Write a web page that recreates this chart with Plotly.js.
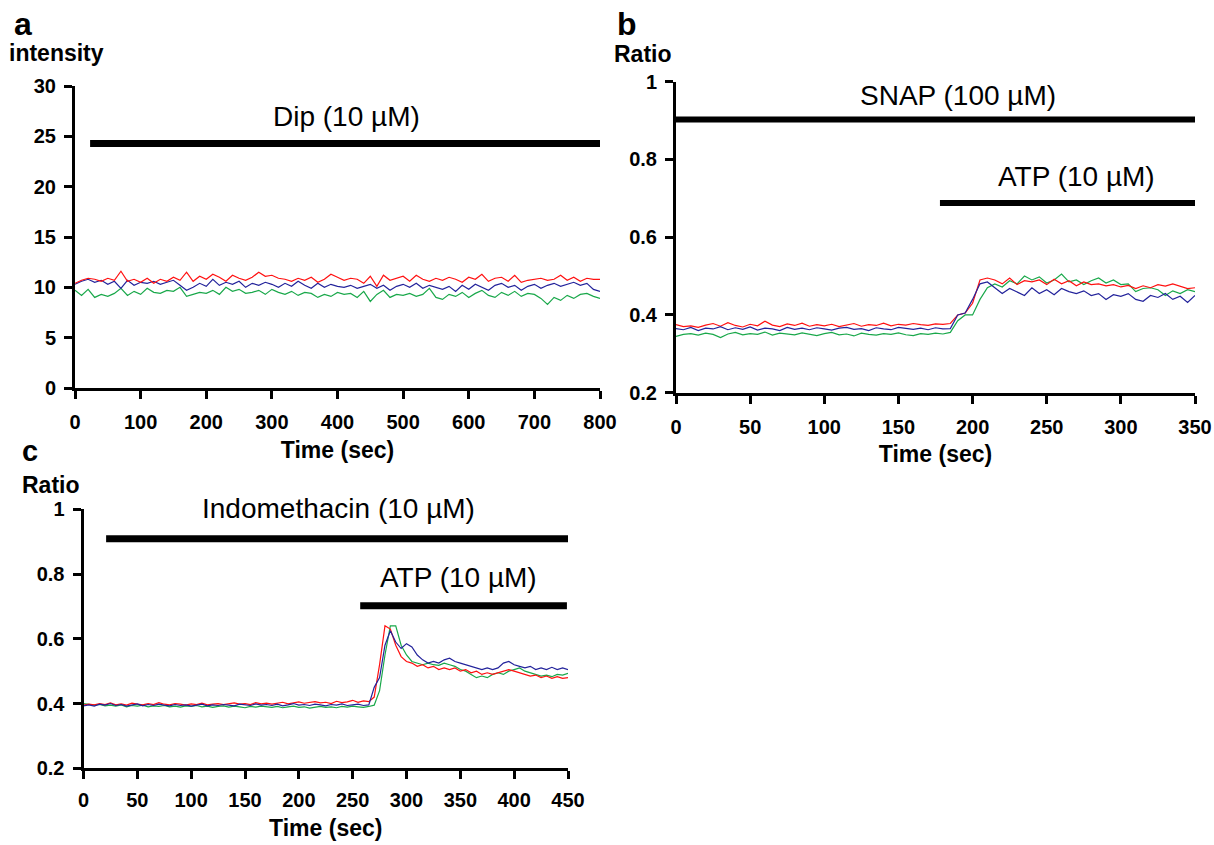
<!DOCTYPE html>
<html>
<head>
<meta charset="utf-8">
<script src="https://cdn.plot.ly/plotly-3.0.1.min.js"></script>
<style>html,body{margin:0;padding:0;background:#fff;}#chart{width:1214px;height:845px;}</style>
</head>
<body>
<div id="chart"></div>
<script>
// ---------- Panel a: intensity, sampled every 10 s from 0 to 800 s ----------
const stepA = 10;
const redA = [10.4,10.7,10.9,10.8,10.6,10.9,10.7,11.6,10.6,10.8,
  10.5,10.9,10.4,10.8,10.6,11.0,10.7,11.5,10.6,11.1,
  10.8,11.3,11.0,10.6,11.2,10.9,10.7,11.0,11.5,11.1,
  11.2,10.9,10.8,10.6,10.9,10.7,11.0,10.5,10.8,11.3,
  11.0,10.7,10.9,10.8,10.4,11.1,10.1,11.2,10.7,10.9,
  11.1,10.6,11.2,10.8,10.6,10.9,10.7,11.0,10.8,10.5,
  11.0,10.8,11.3,10.6,10.9,11.0,10.6,11.2,10.5,10.7,
  10.8,10.9,10.7,10.8,11.2,10.7,11.0,10.6,10.9,10.8,
  10.8];
const blueA = [10.3,10.6,10.8,10.5,10.7,10.3,10.6,9.9,10.7,10.2,
  10.5,10.4,10.6,10.3,10.5,10.7,10.2,9.7,10.0,10.4,
  10.1,10.8,10.2,10.5,10.3,10.6,10.0,10.4,10.2,10.5,
  10.3,10.0,10.4,10.1,10.6,10.2,9.9,10.4,10.0,10.3,
  10.1,10.0,10.2,9.9,10.1,10.3,9.9,10.2,9.7,10.1,
  10.3,10.0,10.4,9.9,10.2,10.0,9.8,10.1,9.6,10.2,
  9.8,10.3,10.0,9.7,10.2,10.4,10.0,10.2,9.7,10.1,
  10.3,9.9,10.2,10.4,10.1,10.3,10.5,10.2,10.4,9.8,
  9.6];
const greenA = [9.7,9.2,9.8,9.0,9.3,9.1,9.4,9.9,9.2,9.6,
  9.3,9.9,9.5,9.4,9.7,9.6,10.0,9.1,9.3,9.5,
  9.4,9.7,9.3,10.0,9.6,9.8,9.4,9.5,9.7,9.3,
  9.8,9.5,9.3,9.6,9.2,9.5,9.4,9.0,9.3,9.1,
  9.5,9.3,9.4,9.0,9.6,8.6,9.3,9.7,9.0,9.3,
  9.2,9.4,9.1,9.3,9.9,9.0,8.8,9.3,9.1,9.5,
  9.0,9.4,9.7,9.2,9.0,9.5,9.2,9.6,9.1,9.4,
  9.3,8.9,8.3,9.0,8.7,9.2,8.9,9.3,9.4,9.1,
  8.9];

// ---------- Panel b: ratio, sampled every 5 s from 0 to 350 s ----------
const stepB = 5;
const redB = [0.375,0.37,0.372,0.368,0.374,0.378,0.371,0.38,0.373,0.369,
  0.376,0.372,0.384,0.374,0.37,0.377,0.373,0.379,0.371,0.375,
  0.372,0.376,0.37,0.374,0.378,0.371,0.375,0.373,0.379,0.372,
  0.376,0.374,0.378,0.375,0.373,0.377,0.376,
  0.378,0.40,0.405,0.43,0.49,0.495,0.49,0.48,0.495,0.478,
  0.488,0.485,0.49,0.478,0.492,0.48,0.488,0.475,0.485,0.478,
  0.48,0.475,0.478,0.472,0.476,0.468,0.475,0.47,0.478,0.474,
  0.48,0.473,0.468,0.47];
const blueB = [0.365,0.362,0.368,0.36,0.366,0.364,0.37,0.362,0.367,0.363,
  0.369,0.361,0.366,0.364,0.36,0.368,0.363,0.366,0.362,0.367,
  0.364,0.361,0.366,0.368,0.363,0.365,0.36,0.367,0.364,0.362,
  0.368,0.365,0.363,0.366,0.362,0.367,0.364,
  0.365,0.40,0.405,0.44,0.48,0.485,0.47,0.455,0.468,0.46,
  0.45,0.47,0.455,0.465,0.452,0.468,0.46,0.455,0.462,0.45,
  0.455,0.44,0.452,0.448,0.455,0.44,0.435,0.45,0.445,0.455,
  0.44,0.448,0.432,0.45];
const greenB = [0.345,0.35,0.352,0.348,0.353,0.35,0.342,0.351,0.355,0.349,
  0.352,0.35,0.356,0.348,0.353,0.351,0.349,0.354,0.35,0.347,
  0.352,0.355,0.349,0.351,0.346,0.353,0.35,0.348,0.352,0.35,
  0.354,0.349,0.347,0.352,0.35,0.353,0.351,
  0.355,0.385,0.40,0.40,0.44,0.47,0.48,0.472,0.488,0.48,
  0.50,0.49,0.498,0.482,0.49,0.505,0.485,0.49,0.478,0.488,
  0.495,0.482,0.49,0.478,0.48,0.46,0.468,0.47,0.465,0.45,
  0.462,0.455,0.465,0.46];

// ---------- Panel c: ratio, sampled every 5 s from 0 to 450 s ----------
const stepC = 5;
const redC = [0.395,0.398,0.396,0.40,0.397,0.402,0.396,0.399,0.395,0.401,
  0.398,0.396,0.40,0.397,0.403,0.398,0.396,0.40,0.398,0.395,
  0.399,0.397,0.401,0.396,0.398,0.40,0.397,0.399,0.402,0.398,
  0.40,0.397,0.403,0.399,0.401,0.398,0.40,0.404,0.399,0.402,
  0.405,0.401,0.403,0.406,0.402,0.404,0.40,0.407,0.403,0.405,
  0.41,0.404,0.408,0.406,
  0.42,0.52,0.64,0.63,0.58,0.545,0.53,0.525,0.515,0.52,
  0.51,0.515,0.505,0.51,0.505,0.51,0.50,0.505,0.495,0.50,
  0.49,0.495,0.49,0.495,0.498,0.505,0.50,0.495,0.49,0.485,
  0.488,0.48,0.485,0.478,0.483,0.478,0.48];
const blueC = [0.393,0.396,0.392,0.398,0.395,0.40,0.394,0.397,0.392,0.396,
  0.399,0.393,0.397,0.394,0.398,0.395,0.393,0.397,0.394,0.396,
  0.392,0.395,0.398,0.393,0.396,0.394,0.397,0.395,0.393,0.398,
  0.396,0.394,0.399,0.395,0.397,0.394,0.398,0.393,0.396,0.40,
  0.395,0.397,0.394,0.398,0.396,0.393,0.397,0.395,0.399,0.394,
  0.396,0.398,0.394,0.396,
  0.45,0.48,0.58,0.625,0.59,0.57,0.585,0.575,0.55,0.535,
  0.525,0.53,0.525,0.535,0.54,0.53,0.525,0.52,0.515,0.51,
  0.505,0.51,0.505,0.51,0.525,0.53,0.52,0.515,0.51,0.515,
  0.505,0.51,0.505,0.512,0.505,0.51,0.505];
const greenC = [0.40,0.398,0.395,0.397,0.393,0.395,0.392,0.396,0.39,0.394,
  0.392,0.395,0.39,0.393,0.391,0.394,0.39,0.392,0.389,0.393,
  0.391,0.394,0.39,0.392,0.388,0.391,0.393,0.389,0.392,0.39,
  0.387,0.391,0.389,0.392,0.39,0.388,0.391,0.387,0.39,0.392,
  0.388,0.39,0.386,0.389,0.391,0.388,0.39,0.387,0.391,0.389,
  0.392,0.39,0.388,0.391,
  0.395,0.44,0.55,0.64,0.64,0.58,0.55,0.53,0.525,0.52,
  0.525,0.52,0.518,0.525,0.52,0.515,0.505,0.50,0.49,0.48,
  0.485,0.48,0.49,0.495,0.49,0.50,0.505,0.51,0.50,0.495,
  0.49,0.485,0.488,0.483,0.49,0.488,0.493];

// ---------- Treatment bars (drug application periods) ----------
const barLabelsA = ['Dip (10 µM)'];
const barStartA = [23];
const barEndA = [800];
const barLevelA = [24.3];
const barLabelXA = [413];
const barLabelYA = [27.0];

const barLabelsB = ['SNAP (100 µM)', 'ATP (10 µM)'];
const barStartB = [0, 178];
const barEndB = [350, 350];
const barLevelB = [0.903, 0.688];
const barLabelXB = [190, 270];
const barLabelYB = [0.965, 0.756];

const barLabelsC = ['Indomethacin (10 µM)', 'ATP (10 µM)'];
const barStartC = [21, 257];
const barEndC = [450, 449];
const barLevelC = [0.909, 0.702];
const barLabelXC = [237, 348];
const barLabelYC = [1.0, 0.789];

// ---------- build ----------
const COLORS = {red: '#ff1010', blue: '#23239b', green: '#19a84a'};
function grid(step, n) { const t = []; for (let i = 0; i < n; i++) t.push(i * step); return t; }
function line(y, step, color, xa, ya) {
  return {type: 'scatter', mode: 'lines', x: grid(step, y.length), y: y,
    xaxis: xa, yaxis: ya, line: {color: color, width: 1.2}, hoverinfo: 'skip', showlegend: false};
}
const data = [
  line(greenA, stepA, COLORS.green, 'x', 'y'),
  line(blueA, stepA, COLORS.blue, 'x', 'y'),
  line(redA, stepA, COLORS.red, 'x', 'y'),
  line(greenB, stepB, COLORS.green, 'x2', 'y2'),
  line(redB, stepB, COLORS.red, 'x2', 'y2'),
  line(blueB, stepB, COLORS.blue, 'x2', 'y2'),
  line(greenC, stepC, COLORS.green, 'x3', 'y3'),
  line(redC, stepC, COLORS.red, 'x3', 'y3'),
  line(blueC, stepC, COLORS.blue, 'x3', 'y3')
];

const W = 1214, H = 845;
const FONT = 'Liberation Sans, Arial, sans-serif';
function axis(extra) {
  return Object.assign({
    showline: true, linecolor: '#000', linewidth: 3, mirror: false,
    ticks: 'outside', ticklen: 8, tickwidth: 3, tickcolor: '#000',
    showgrid: false, zeroline: false, fixedrange: true,
    tickfont: {family: FONT, size: 20, weight: 'bold', color: '#000'}
  }, extra);
}
function xtitle() {
  return {text: 'Time (sec)', font: {family: FONT, size: 23, weight: 'bold', color: '#000'}, standoff: 10};
}

const shapes = [], annotations = [];
function addBars(labels, starts, ends, levels, lx, ly, xr, yr, width, shifts) {
  for (let i = 0; i < labels.length; i++) {
    shapes.push({type: 'line', xref: xr, yref: yr, x0: starts[i], x1: ends[i], y0: levels[i], y1: levels[i],
      line: {color: '#000', width: width}});
    annotations.push({xref: xr, yref: yr, x: lx[i], y: ly[i], text: labels[i], showarrow: false,
      yshift: shifts ? shifts[i] : 0,
      xanchor: 'center', yanchor: 'middle', font: {family: FONT, size: 28, color: '#000'}});
  }
}
addBars(barLabelsA, barStartA, barEndA, barLevelA, barLabelXA, barLabelYA, 'x', 'y', 7);
addBars(barLabelsB, barStartB, barEndB, barLevelB, barLabelXB, barLabelYB, 'x2', 'y2', 6);
addBars(barLabelsC, barStartC, barEndC, barLevelC, barLabelXC, barLabelYC, 'x3', 'y3', 7, [1, 0]);

function paperText(text, px, py, size) {
  annotations.push({xref: 'paper', yref: 'paper', x: px / W, y: 1 - py / H, text: text, showarrow: false,
    xanchor: 'left', yanchor: 'middle', font: {family: FONT, size: size, weight: 'bold', color: '#000'}});
}
paperText('a', 12, 24, 32);
paperText('intensity', 7, 53, 23);
paperText('b', 615, 24, 32);
paperText('Ratio', 612, 54, 23);
paperText('c', 20, 451, 29);
paperText('Ratio', 20, 485, 23);

const layout = {
  width: W, height: H,
  margin: {l: 0, r: 0, t: 0, b: 0},
  paper_bgcolor: '#fff', plot_bgcolor: '#fff',
  showlegend: false,
  xaxis: axis({domain: [75 / W, 600 / W], range: [0, 800], dtick: 100, tick0: 0, anchor: 'y', title: xtitle(), ticklabelstandoff: 6}),
  yaxis: axis({domain: [1 - 388 / H, 1 - 86 / H], range: [0, 30], dtick: 5, tick0: 0, anchor: 'x', ticklabelstandoff: 4}),
  xaxis2: axis({domain: [676 / W, 1195 / W], range: [0, 350], dtick: 50, tick0: 0, anchor: 'y2', title: xtitle(), ticklabelstandoff: 6}),
  yaxis2: axis({domain: [1 - 392.7 / H, 1 - 81.7 / H], range: [0.2, 1], dtick: 0.2, tick0: 0.2, anchor: 'x2', ticklabelstandoff: 4}),
  xaxis3: axis({domain: [83.5 / W, 568 / W], range: [0, 450], dtick: 50, tick0: 0, anchor: 'y3', title: xtitle(), ticklabelstandoff: 4}),
  yaxis3: axis({domain: [1 - 768.3 / H, 1 - 509.3 / H], range: [0.2, 1], dtick: 0.2, tick0: 0.2, anchor: 'x3', ticklabelstandoff: 4}),
  shapes: shapes,
  annotations: annotations
};

Plotly.newPlot('chart', data, layout, {displayModeBar: false, staticPlot: true});
</script>
</body>
</html>
